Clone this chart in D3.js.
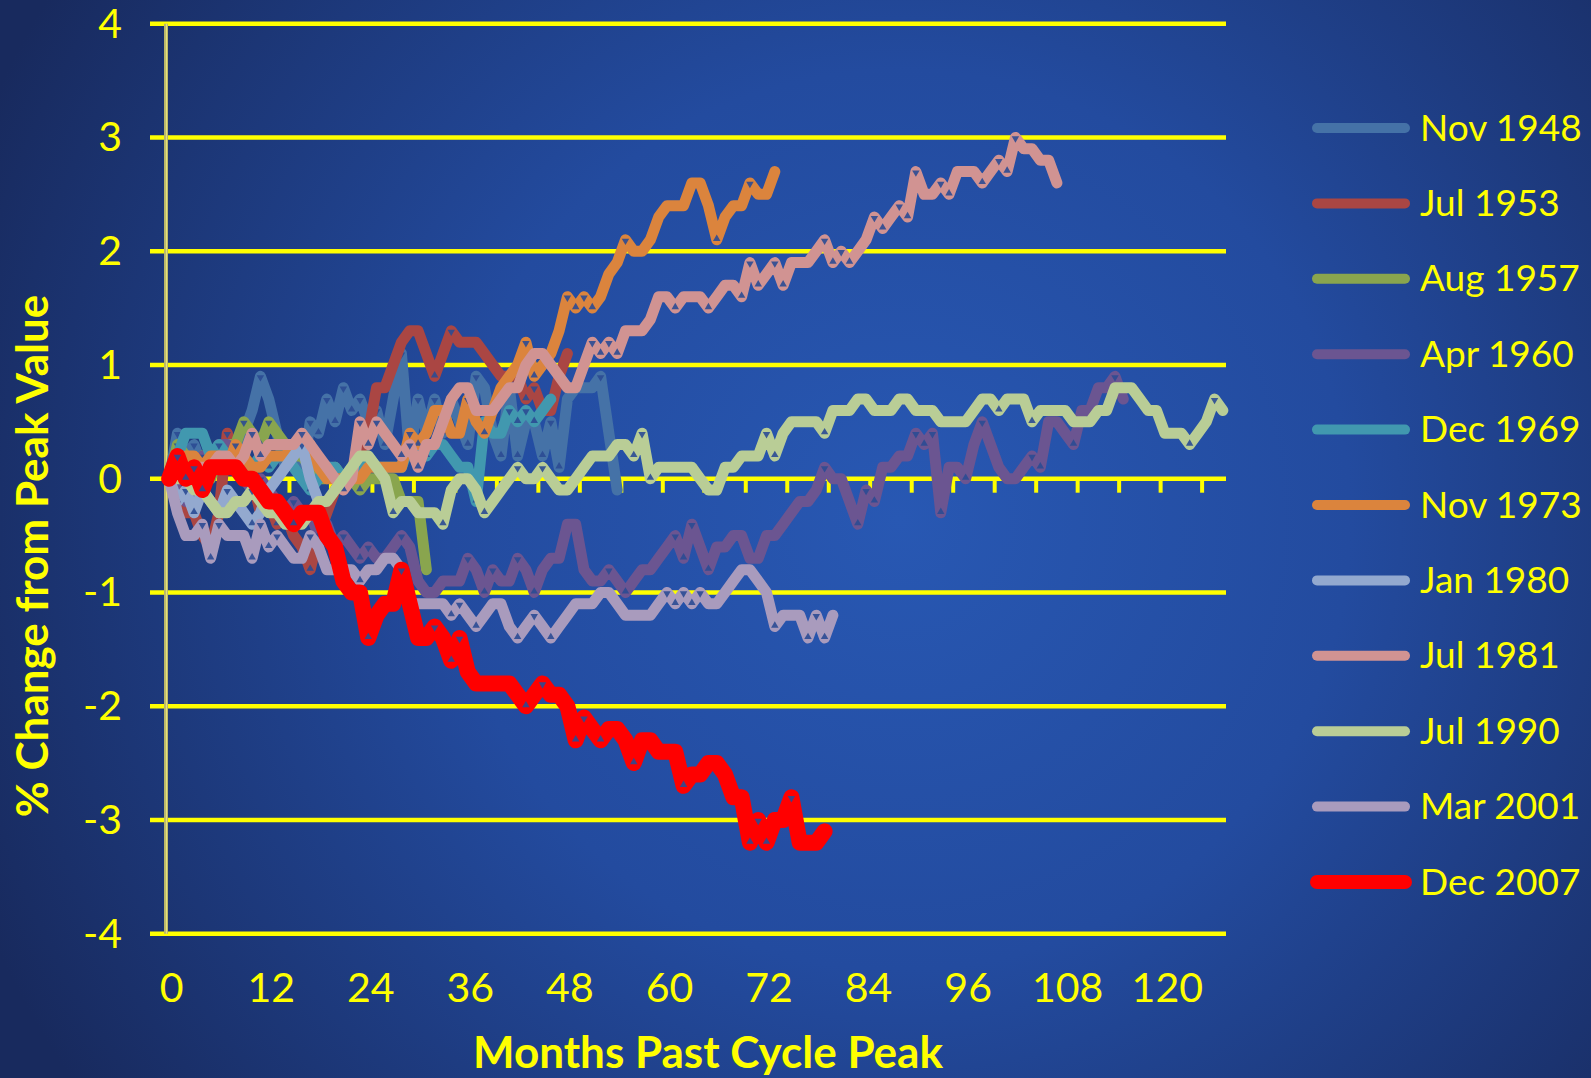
<!DOCTYPE html>
<html>
<head>
<meta charset="utf-8">
<script src="https://cdn.jsdelivr.net/npm/d3@7"></script>
<style>
  html, body { margin: 0; padding: 0; background: #1b2f68; }
  svg { display: block; }
  text { font-family: "Lato", "Open Sans", sans-serif; fill: #ffff00; }
</style>
</head>
<body>
<svg id="chart" width="1591" height="1078"></svg>
<script>
// ---------------- data ----------------
const seriesNames = ["Nov 1948", "Jul 1953", "Aug 1957", "Apr 1960", "Dec 1969", "Nov 1973",
                     "Jan 1980", "Jul 1981", "Jul 1990", "Mar 2001", "Dec 2007"];
const seriesColors = ["#4572a7", "#aa4643", "#89a54e", "#6b5591", "#4198af", "#db843d",
                      "#93a9cf", "#d19392", "#b9cd96", "#a99bbd", "#ff0000"];

const xTickLabels = [0, 12, 24, 36, 48, 60, 72, 84, 96, 108, 120];
const xTickMarks = [4.5, 9.5, 14.5, 19.5, 24.5, 29.5, 34.5, 39.5, 44.5, 49.5, 54.5, 59.5, 64.5,
                    69.5, 74.5, 79.5, 84.5, 89.5, 94.5, 99.5, 104.5, 109.5, 114.5, 119.5, 124.5];
const yTickLabels = [4, 3, 2, 1, 0, -1, -2, -3, -4];

const nov1948 = [0, 0.4, 0.2, 0.3, 0.1, 0.2, 0.3, 0.1, 0.2, 0.4,
  0.6, 0.9, 0.7, 0.4, 0.1, 0.2, 0.0, 0.5, 0.4, 0.7,
  0.5, 0.8, 0.6, 0.7, 0.5, 0.6, 0.3, 0.7, 1.1, 0.2,
  0.7, 0.4, 0.7, 0.4, 0.7, 0.5, 0.3, 0.9, 0.8, 0.4,
  0.2, 0.8, 0.2, 0.5, 0.5, 0.2, 0.5, 0.1, 0.7, 0.8,
  0.8, 0.8, 0.9, 0.4, -0.1];
const jul1953 = [0, -0.1, -0.3, -0.3, -0.5, -0.6, -0.3, 0.4, 0.2, 0.2,
  0.0, -0.3, -0.2, -0.4, -0.3, -0.5, -0.6, -0.8, -0.5, -0.3,
  -0.1, 0.0, 0.0, 0.1, 0.4, 0.8, 0.8, 1.0, 1.2, 1.3,
  1.3, 1.1, 0.9, 1.1, 1.3, 1.2, 1.2, 1.2, 1.1, 1.0,
  0.9, 0.9, 0.9, 0.7, 0.8, 0.6, 0.6, 0.9, 1.1];
const aug1957 = [0, 0.3, 0.2, 0.1, 0.2, 0.0, 0.2, 0.3, 0.3, 0.5,
  0.4, 0.3, 0.5, 0.4, 0.3, 0.2, 0.2, 0.1, 0.0, 0.0,
  0.1, 0.0, 0.0, -0.1, 0.0, 0.0, 0.0, 0.0, -0.2, -0.2,
  -0.2, -0.8];
const apr1960 = [0, -0.1, -0.2, -0.1, 0.2, 0.1, 0.3, 0.3, 0.1, 0.0,
  -0.1, 0.0, -0.1, -0.2, -0.3, -0.2, -0.3, -0.3, -0.5, -0.4,
  -0.6, -0.5, -0.6, -0.7, -0.6, -0.7, -0.7, -0.6, -0.5, -0.6,
  -0.9, -1.0, -1.0, -0.9, -0.9, -0.9, -0.7, -0.8, -1.0, -0.8,
  -0.9, -0.9, -0.7, -0.8, -1.0, -0.8, -0.7, -0.7, -0.4, -0.4,
  -0.8, -0.9, -0.9, -0.8, -0.9, -1.0, -0.9, -0.8, -0.8, -0.7,
  -0.6, -0.5, -0.7, -0.4, -0.6, -0.8, -0.6, -0.6, -0.5, -0.5,
  -0.7, -0.7, -0.5, -0.5, -0.4, -0.3, -0.2, -0.2, -0.1, 0.1,
  0.0, 0.0, -0.2, -0.4, -0.1, -0.2, 0.1, 0.1, 0.2, 0.2,
  0.4, 0.3, 0.4, -0.3, 0.1, 0.1, 0.0, 0.3, 0.5, 0.3,
  0.1, 0.0, 0.0, 0.1, 0.2, 0.1, 0.5, 0.5, 0.4, 0.3,
  0.6, 0.6, 0.8, 0.8, 0.9, 0.7];
const dec1969 = [0, 0.2, 0.4, 0.4, 0.4, 0.2, 0.3, 0.2, 0.2, 0.1,
  0.1, 0.2, 0.1, 0.2, 0.2, 0.1, 0.0, -0.1, 0.0, 0.1,
  0.1, 0.0, 0.1, 0.1, 0.2, 0.1, 0.1, 0.1, 0.1, 0.3,
  0.3, 0.2, 0.3, 0.3, 0.2, 0.1, 0.1, -0.2, 0.5, 0.4,
  0.4, 0.6, 0.5, 0.6, 0.5, 0.6, 0.7];
const nov1973 = [0, 0.1, 0.2, 0.2, 0.1, 0.2, 0.2, 0.1, 0.3, 0.2,
  0.1, 0.1, 0.2, 0.2, 0.2, 0.3, 0.3, 0.3, 0.1, 0.0,
  0.0, 0.0, 0.0, 0.0, 0.1, 0.1, 0.1, 0.1, 0.1, 0.4,
  0.3, 0.4, 0.6, 0.6, 0.4, 0.4, 0.7, 0.5, 0.4, 0.6,
  0.8, 0.9, 1.0, 1.2, 0.9, 1.0, 1.1, 1.3, 1.6, 1.5,
  1.6, 1.5, 1.6, 1.8, 1.9, 2.1, 2.0, 2.0, 2.1, 2.3,
  2.4, 2.4, 2.4, 2.6, 2.6, 2.4, 2.1, 2.3, 2.4, 2.4,
  2.6, 2.5, 2.5, 2.7];
const jan1980 = [0, -0.2, -0.1, -0.3, -0.1, -0.2, -0.3, -0.1, -0.2, -0.3,
  -0.4, -0.3, -0.1, 0.0, 0.1, 0.2, 0.3, 0.0, -0.2];
const jul1981 = [0, 0.1, 0.0, 0.1, 0.1, 0.1, 0.2, 0.2, 0.1, 0.2,
  0.4, 0.2, 0.3, 0.3, 0.3, 0.3, 0.4, 0.3, 0.2, 0.1,
  0.0, -0.1, 0.0, 0.5, 0.3, 0.5, 0.4, 0.3, 0.2, 0.3,
  0.1, 0.3, 0.3, 0.5, 0.7, 0.8, 0.8, 0.6, 0.6, 0.6,
  0.7, 0.8, 0.8, 1.0, 1.1, 1.1, 1.0, 0.9, 0.8, 0.8,
  1.0, 1.2, 1.1, 1.2, 1.1, 1.3, 1.3, 1.3, 1.4, 1.6,
  1.6, 1.5, 1.6, 1.6, 1.6, 1.5, 1.6, 1.7, 1.7, 1.6,
  1.9, 1.7, 1.8, 1.9, 1.7, 1.9, 1.9, 1.9, 2.0, 2.1,
  1.9, 2.0, 1.9, 2.0, 2.1, 2.3, 2.2, 2.3, 2.4, 2.3,
  2.7, 2.5, 2.5, 2.6, 2.5, 2.7, 2.7, 2.7, 2.6, 2.7,
  2.8, 2.7, 3.0, 2.9, 2.9, 2.8, 2.8, 2.6];
const jul1990 = [0, 0.0, 0.0, -0.1, -0.1, -0.2, -0.3, -0.3, -0.2, -0.2,
  -0.1, -0.2, -0.3, -0.3, -0.4, -0.4, -0.4, -0.3, -0.2, -0.2,
  -0.1, 0.0, 0.1, 0.2, 0.2, 0.1, 0.0, -0.3, -0.2, -0.2,
  -0.3, -0.3, -0.3, -0.4, -0.1, 0.0, 0.0, -0.1, -0.3, -0.2,
  -0.1, 0.0, 0.1, 0.0, 0.0, 0.1, 0.0, -0.1, -0.1, 0.0,
  0.1, 0.2, 0.2, 0.2, 0.3, 0.3, 0.2, 0.4, 0.0, 0.1,
  0.1, 0.1, 0.1, 0.1, 0.0, -0.1, -0.1, 0.1, 0.1, 0.2,
  0.2, 0.2, 0.4, 0.2, 0.4, 0.5, 0.5, 0.5, 0.5, 0.4,
  0.6, 0.6, 0.6, 0.7, 0.7, 0.6, 0.6, 0.6, 0.7, 0.7,
  0.6, 0.6, 0.6, 0.5, 0.5, 0.5, 0.5, 0.6, 0.7, 0.7,
  0.6, 0.7, 0.7, 0.7, 0.5, 0.6, 0.6, 0.6, 0.6, 0.5,
  0.5, 0.5, 0.6, 0.6, 0.8, 0.8, 0.8, 0.7, 0.6, 0.6,
  0.4, 0.4, 0.4, 0.3, 0.4, 0.5, 0.7, 0.6];
const mar2001 = [0, -0.3, -0.5, -0.5, -0.4, -0.7, -0.4, -0.5, -0.5, -0.5,
  -0.7, -0.4, -0.6, -0.5, -0.6, -0.7, -0.7, -0.5, -0.6, -0.8,
  -0.8, -0.8, -0.8, -0.9, -0.8, -0.8, -0.7, -0.7, -0.8, -1.1,
  -1.1, -1.1, -1.1, -1.1, -1.2, -1.1, -1.2, -1.3, -1.2, -1.1,
  -1.1, -1.3, -1.4, -1.3, -1.2, -1.3, -1.4, -1.3, -1.2, -1.1,
  -1.1, -1.1, -1.0, -1.0, -1.1, -1.2, -1.2, -1.2, -1.2, -1.1,
  -1.0, -1.1, -1.0, -1.1, -1.0, -1.1, -1.1, -1.0, -0.9, -0.8,
  -0.8, -0.9, -1.0, -1.3, -1.2, -1.2, -1.2, -1.4, -1.2, -1.4,
  -1.2];
const dec2007 = [0, 0.2, 0.0, 0.1, -0.1, 0.1, 0.1, 0.1, 0.1, 0.0,
  0.0, -0.1, -0.2, -0.2, -0.3, -0.4, -0.3, -0.3, -0.3, -0.5,
  -0.6, -0.9, -1.0, -1.0, -1.4, -1.2, -1.1, -1.1, -0.8, -1.1,
  -1.4, -1.4, -1.3, -1.4, -1.6, -1.4, -1.7, -1.8, -1.8, -1.8,
  -1.8, -1.8, -1.9, -2.0, -1.9, -1.8, -1.9, -1.9, -2.0, -2.3,
  -2.1, -2.2, -2.3, -2.2, -2.2, -2.3, -2.5, -2.3, -2.3, -2.4,
  -2.4, -2.4, -2.7, -2.6, -2.6, -2.5, -2.5, -2.6, -2.8, -2.8,
  -3.2, -3.0, -3.2, -3.0, -3.0, -2.8, -3.2, -3.2, -3.2, -3.1];

const seriesValues = [nov1948, jul1953, aug1957, apr1960, dec1969, nov1973,
                      jan1980, jul1981, jul1990, mar2001, dec2007];

// ---------------- drawing ----------------
const svg = d3.select("#chart");
const W = 1591, H = 1078;

const defs = svg.append("defs");
const grad = defs.append("radialGradient").attr("id", "bg")
  .attr("gradientUnits", "userSpaceOnUse")
  .attr("cx", 900).attr("cy", 520).attr("r", 1000);
grad.append("stop").attr("offset", "0%").attr("stop-color", "#2858b3");
grad.append("stop").attr("offset", "45%").attr("stop-color", "#234b9f");
grad.append("stop").attr("offset", "100%").attr("stop-color", "#182a5e");
svg.append("rect").attr("width", W).attr("height", H).attr("fill", "url(#bg)");

const x = d3.scaleLinear().domain([-0.5, 127.5]).range([165, 1227]);
const y = d3.scaleLinear().domain([-4, 4]).range([933.7, 23.7]);

// gridlines
svg.append("g").selectAll("line").data(yTickLabels).join("line")
  .attr("x1", 150).attr("x2", x(127.5) - 1)
  .attr("y1", d => y(d)).attr("y2", d => y(d))
  .attr("stroke", "#ffff00").attr("stroke-width", 4.5);

// x tick marks below zero line
svg.append("g").selectAll("line").data(xTickMarks).join("line")
  .attr("x1", d => x(d)).attr("x2", d => x(d))
  .attr("y1", y(0)).attr("y2", y(0) + 14)
  .attr("stroke", "#ffff00").attr("stroke-width", 4);

// vertical axis line
svg.append("line")
  .attr("x1", x(-0.5) + 1).attr("x2", x(-0.5) + 1)
  .attr("y1", y(4)).attr("y2", y(-4))
  .attr("stroke", "#b9b66a").attr("stroke-width", 4);
svg.append("line")
  .attr("x1", x(-0.5) + 1.5).attr("x2", x(-0.5) + 1.5)
  .attr("y1", y(4)).attr("y2", y(-4))
  .attr("stroke", "#e6e27a").attr("stroke-width", 1.2);

// y tick labels
const yAxis = svg.append("g").attr("transform", "translate(122,0)")
  .call(d3.axisLeft(y).tickValues(yTickLabels).tickSize(0).tickPadding(0)
    .tickFormat(d => String(d)));
yAxis.select(".domain").remove();
yAxis.selectAll("text").attr("dy", "0.33em")
  .style("font-family", "Lato").style("font-size", "41px").attr("fill", "#ffff00");

// x tick labels
const xAxis = svg.append("g").attr("transform", "translate(2,973)")
  .call(d3.axisBottom(x).tickValues(xTickLabels).tickSize(0).tickPadding(0)
    .tickFormat(d => String(d)));
xAxis.select(".domain").remove();
xAxis.selectAll("text").attr("dy", "0.71em")
  .style("font-family", "Lato").style("font-size", "41px").attr("fill", "#ffff00");

// axis titles
svg.append("text").attr("x", 708).attr("y", 1068).attr("text-anchor", "middle")
  .style("font-size", "44px").style("font-weight", "bold")
  .text("Months Past Cycle Peak");
svg.append("text").attr("transform", "translate(48,556) rotate(-90)")
  .attr("text-anchor", "middle")
  .style("font-size", "44px").style("font-weight", "bold")
  .text("% Change from Peak Value");

// series lines
const line = d3.line().x((d, i) => x(i)).y(d => y(d));
const series = seriesNames.map((name, k) => ({ name, color: seriesColors[k], values: seriesValues[k], k }));

const gLines = svg.append("g");
series.forEach(s => {
  const g = gLines.append("g");
  g.append("path").datum(s.values)
    .attr("d", line)
    .attr("fill", "none")
    .attr("stroke", s.color)
    .attr("stroke-width", s.k === 10 ? 16 : 11)
    .attr("stroke-linejoin", "round")
    .attr("stroke-linecap", "round");
  // small triangle marks at turning points
  const turns = [];
  s.values.forEach((v, i) => {
    if (i === 0 || i === s.values.length - 1) return;
    const a = v - s.values[i - 1], b = s.values[i + 1] - v;
    if (a > 0.001 && b < -0.001) turns.push({ i, v, peak: true });
    else if (a < -0.001 && b > 0.001) turns.push({ i, v, peak: false });
  });
  g.selectAll("path.tri").data(turns).join("path").attr("class", "tri")
    .attr("d", d3.symbol(d3.symbolTriangle, 24))
    .attr("transform", d => `translate(${x(d.i)},${y(d.v) + (d.peak ? 1 : -1)}) rotate(${d.peak ? 180 : 0})`)
    .attr("fill", "#2b4b93").attr("opacity", 0.9);
});

// legend
const legend = svg.append("g");
const rows = legend.selectAll("g").data(series).join("g")
  .attr("transform", (d, i) => `translate(0,${128 + 75.4 * i})`);
rows.append("line")
  .attr("x1", 1317).attr("x2", 1405).attr("y1", 0).attr("y2", 0)
  .attr("stroke", d => d.color)
  .attr("stroke-width", d => d.k === 10 ? 14 : 10)
  .attr("stroke-linecap", "round");
rows.append("text").attr("x", 1420).attr("y", 12.5)
  .style("font-size", "37px")
  .text(d => d.name);
</script>
</body>
</html>
